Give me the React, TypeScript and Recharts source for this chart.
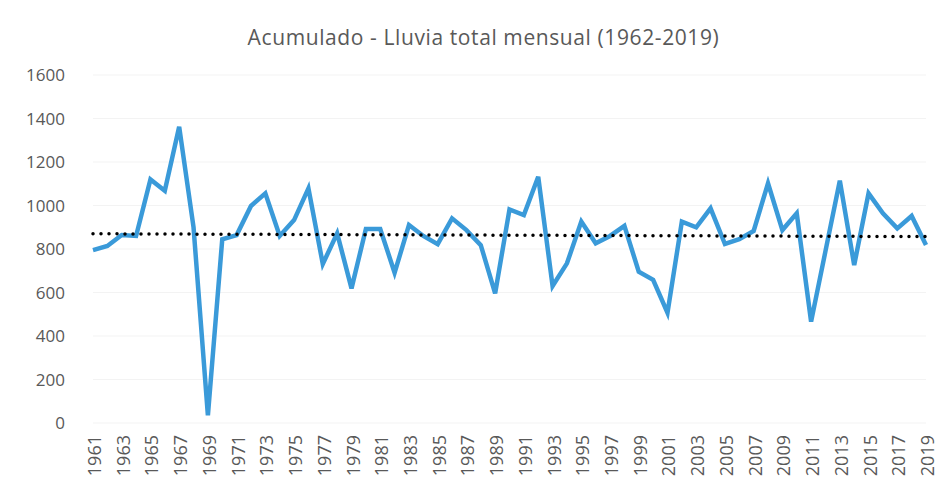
import { LineChart, Line, XAxis, YAxis, CartesianGrid, ReferenceLine } from "recharts";

const title = "Acumulado - Lluvia total mensual (1962-2019)";

const years = Array.from({ length: 59 }, (_, i) => 1961 + i);

const rainfall = [
  795, 814, 864, 860, 1120, 1068, 1362, 900, 35, 845,
  864, 998, 1056, 860, 933, 1079, 731, 872, 619, 892,
  892, 691, 910, 860, 822, 941, 887, 818, 596, 982,
  956, 1132, 630, 734, 926, 826, 860, 906, 696, 658,
  507, 926, 900, 987, 823, 845, 883, 1102, 887, 964,
  466, 790, 1114, 726, 1056, 964, 895, 952, 818
];

const yTicks = [0, 200, 400, 600, 800, 1000, 1200, 1400, 1600];

// linear trend end points
const trendStart = 870;
const trendEnd = 857;

const data = years.map((year, i) => ({ year, rain: rainfall[i] }));

const font = "'Open Sans', 'DejaVu Sans', sans-serif";

function YearTick({ x, y, payload }: any) {
  const tx = x + 1;
  return (
    <text
      x={tx}
      y={y}
      transform={`rotate(-90, ${tx}, ${y})`}
      textAnchor="end"
      dominantBaseline="central"
      fill="#595959"
      fontSize={18}
      fontFamily={font}
    >
      {payload.value}
    </text>
  );
}

export default function App() {
  return (
    <div style={{ position: "absolute", left: 0, top: 0, width: 946, height: 483, background: "#fff" }}>
      <div
        style={{
          position: "absolute",
          left: 0,
          top: 23,
          width: 967,
          textAlign: "center",
          fontFamily: font,
          fontSize: 21,
          letterSpacing: 0.6,
          color: "#595959",
          lineHeight: "28px"
        }}
      >
        {title}
      </div>
      <LineChart
        width={946}
        height={483}
        data={data}
        margin={{ top: 75, right: 20, left: 0, bottom: 0 }}
      >
        <CartesianGrid vertical={false} stroke="#f3f3f3" />
        <XAxis
          dataKey="year"
          type="category"
          interval={1}
          axisLine={false}
          tickLine={false}
          height={60}
          tickSize={6}
          tickMargin={6}
          tick={<YearTick />}
        />
        <YAxis
          type="number"
          domain={[0, 1600]}
          ticks={yTicks}
          width={93}
          axisLine={false}
          tickLine={false}
          tickSize={6}
          tickMargin={22}
          tick={{ fill: "#595959", fontSize: 17, fontFamily: font }}
        />
        <Line
          type="linear"
          dataKey="rain"
          stroke="#3a9ad9"
          strokeWidth={4.5}
          dot={false}
          isAnimationActive={false}
        />
        <ReferenceLine
          segment={[
            { x: 1961, y: trendStart },
            { x: 2019, y: trendEnd }
          ]}
          stroke="#000"
          strokeWidth={3.5}
          strokeDasharray="0 8"
          strokeLinecap="round"
        />
      </LineChart>
    </div>
  );
}
